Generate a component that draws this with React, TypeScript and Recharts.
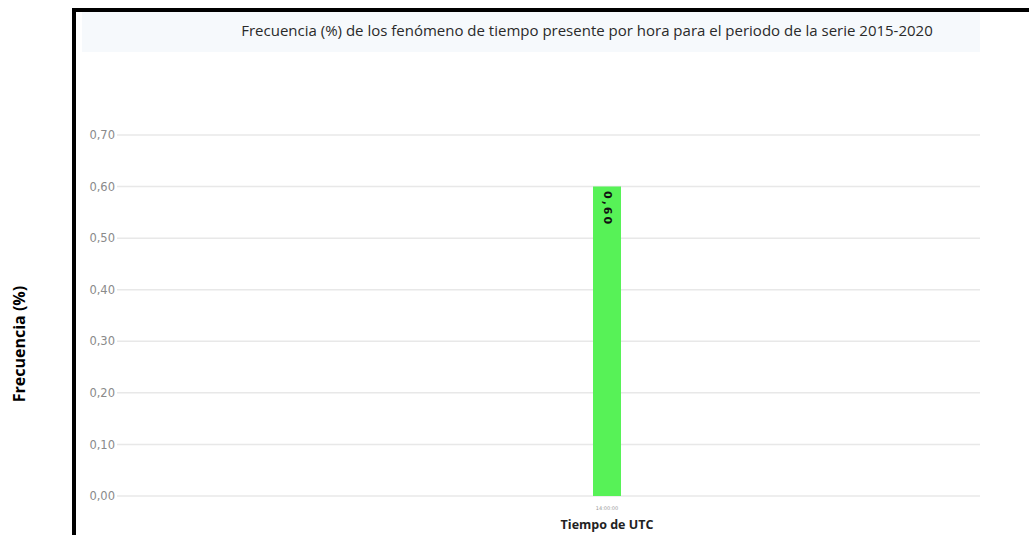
import React from 'react';
import { BarChart, Bar, XAxis, YAxis, CartesianGrid, LabelList } from 'recharts';

const categories = ['14:00:00'];
const frequencies = [0.6];
const yTicks = [0, 0.1, 0.2, 0.3, 0.4, 0.5, 0.6, 0.7];
const titleText = 'Frecuencia (%) de los fenómeno de tiempo presente por hora para el periodo de la serie 2015-2020';
const yAxisTitle = 'Frecuencia (%)';
const xAxisTitle = 'Tiempo de UTC';

const data = categories.map((c, i) => ({ hora: c, valor: frequencies[i] }));

const fmt = (v: number) => v.toFixed(2).replace('.', ',');

const XTick = (props: any) => {
  const { x, y, payload } = props;
  return (
    <g>
      <text x={x} y={y + 12} textAnchor="middle" dominantBaseline="central" fontSize={5} fill="#999" fontFamily="DejaVu Sans">
        {payload.value}
      </text>
      <text x={x} y={y + 28} textAnchor="middle" dominantBaseline="central" fontSize={12.5} fontWeight="bold" fill="#222" fontFamily="Open Sans">
        {xAxisTitle}
      </text>
    </g>
  );
};

const BarValueLabel = (props: any) => {
  const { x, y, width, value } = props;
  const cx = x + width / 2;
  const cy = y + 22;
  return (
    <text
      x={cx}
      y={cy}
      textAnchor="middle"
      dominantBaseline="central"
      transform={`rotate(90 ${cx} ${cy})`}
      fontSize={11}
      fontWeight="bold"
      letterSpacing={2}
      fill="#111"
      fontFamily="DejaVu Sans"
    >
      {fmt(value)}
    </text>
  );
};

export default function App() {
  return (
    <div style={{ position: 'fixed', left: 0, top: 0, width: 1029, height: 535, overflow: 'hidden', background: '#fff' }}>
      <div style={{ position: 'absolute', left: 72, top: 8, width: 1100, height: 600, borderTop: '4px solid #000', borderLeft: '4px solid #000', boxSizing: 'border-box' }} />
      <div style={{ position: 'absolute', left: 82, top: 12, width: 898, height: 40, background: '#f6f9fc' }} />
      <div
        style={{
          position: 'absolute',
          left: 187,
          top: 12,
          width: 800,
          height: 36,
          lineHeight: '36px',
          textAlign: 'center',
          fontFamily: 'Open Sans',
          fontSize: 15,
          color: '#2a2a2a',
          whiteSpace: 'nowrap',
        }}
      >
        {titleText}
      </div>
      <svg style={{ position: 'absolute', left: 0, top: 0 }} width={60} height={535}>
        <text
          x={19}
          y={344}
          textAnchor="middle"
          dominantBaseline="central"
          transform="rotate(-90 19 344)"
          fontFamily="Open Sans"
          fontWeight="bold"
          fontSize={16}
          fill="#000"
        >
          {yAxisTitle}
        </text>
      </svg>
      <div style={{ position: 'absolute', left: 0, top: 0 }}>
        <BarChart width={1029} height={535} data={data} margin={{ top: 135, right: 49, bottom: 0, left: 0 }}>
          <CartesianGrid vertical={false} stroke="#e8e8e8" strokeWidth={1.5} />
          <YAxis
            width={117}
            domain={[0, 0.7]}
            ticks={yTicks}
            tickFormatter={fmt}
            axisLine={false}
            tickLine={false}
            tickSize={0}
            tickMargin={2}
            tick={{ fill: '#8a8a8a', fontSize: 11.5, fontFamily: 'DejaVu Sans' }}
          />
          <XAxis
            dataKey="hora"
            height={39}
            axisLine={false}
            tickLine={false}
            tickSize={0}
            tickMargin={0}
            padding={{ left: 117, right: 0 }}
            tick={<XTick />}
            interval={0}
          />
          <Bar dataKey="valor" fill="#57f257" barSize={28} isAnimationActive={false}>
            <LabelList dataKey="valor" content={<BarValueLabel />} />
          </Bar>
        </BarChart>
      </div>
    </div>
  );
}
